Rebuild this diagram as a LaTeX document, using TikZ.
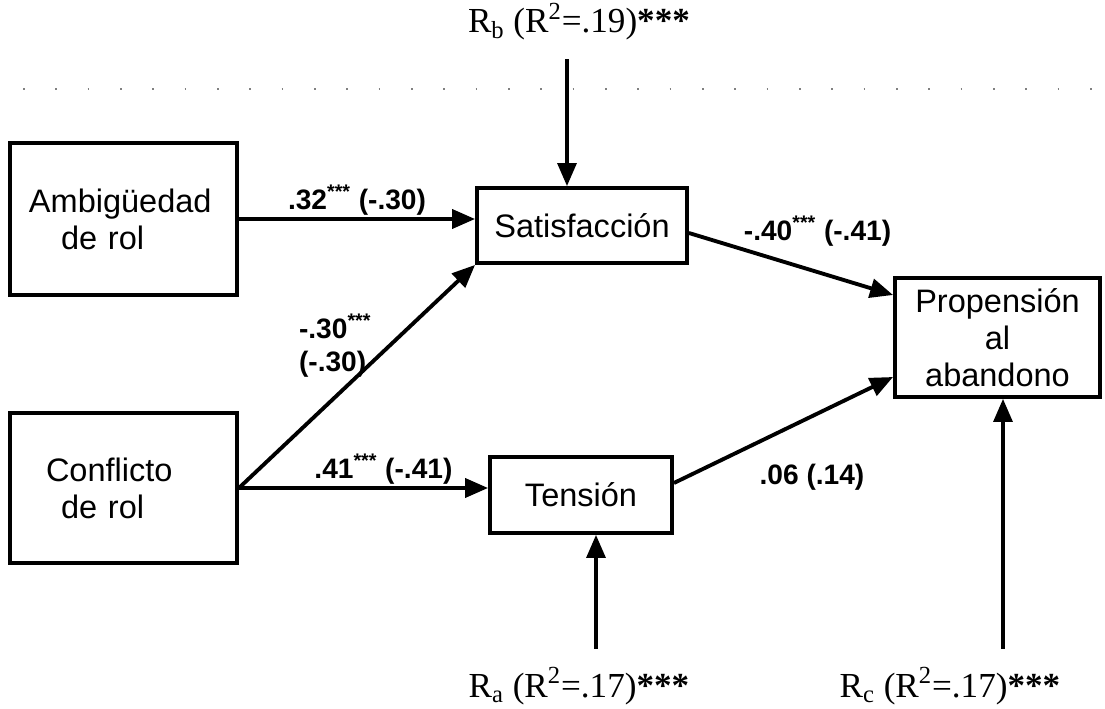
\documentclass[tikz,border=0pt]{standalone}
\usepackage{fontspec}
\setmainfont{Liberation Sans}
\newfontfamily\rfont{Liberation Serif}
\usetikzlibrary{arrows.meta,positioning}

\begin{document}
\begin{tikzpicture}[
    > = {Triangle[length=0.46cm,width=0.38cm]}, % arrow head style
    auto,
    line width = 2.2pt, % heavy path lines
    line join = miter
    ]

    \tikzset{
    box/.style = {draw = black, fill = white, inner sep = 0pt,
      font = \fontsize{18.5}{21}\selectfont},
    coef/.style = {font = \fontsize{16}{18.8}\selectfont\bfseries, inner sep = 1pt},
    resid/.style = {font = \fontsize{20}{22}\selectfont\rfont, anchor = base,
      inner xsep = 0pt, inner ysep = 0.34cm},
    rline/.style = {line width = 1.8pt}
    }

    \useasboundingbox (0,0) rectangle (22.1,-14.18);

    % dotted rule under the top residual
    \draw[gray, line width = 1pt, dash pattern = on 1pt off 17.4pt] (0.46,-1.78) -- (22.05,-1.78);

    % variables
    \node[box, minimum width = 4.54cm, minimum height = 3.04cm, text width = 3.78cm,
      align = left, inner xsep = 0.38cm] (amb) at (2.47,-4.38) {Ambigüedad\\\hspace*{0.64cm}de rol};
    \node[box, minimum width = 4.54cm, minimum height = 3.0cm, text width = 3.78cm,
      align = left, inner xsep = 0.38cm] (con) at (2.47,-9.76) {\hspace*{0.34cm}Conflicto\\\hspace*{0.64cm}de rol};
    \node[box, minimum width = 4.2cm, minimum height = 1.5cm] (sat) at (11.64,-4.51) {Satisfacción};
    \node[box, minimum width = 3.64cm, minimum height = 1.52cm] (ten) at (11.62,-9.90) {Tensión};
    \node[box, minimum width = 4.1cm, minimum height = 2.38cm, align = center] (prop) at (19.95,-6.75) {Propensión\\al\\abandono};

    % residuals
    \node[resid] (rb) at (11.58,-0.66) {R\textsubscript{b} (R\textsuperscript{2}=.19)\textbf{***}};
    \node[resid] (ra) at (11.58,-13.94) {R\textsubscript{a} (R\textsuperscript{2}=.17)\textbf{***}};
    \node[resid] (rc) at (19.0,-13.94) {R\textsubscript{c} (R\textsuperscript{2}=.17)\textbf{***}};

    \coordinate (rbin) at ([xshift=-0.3cm]sat.north);
    \coordinate (rain) at ([xshift=0.3cm]ten.south);
    \coordinate (rcin) at ([xshift=0.11cm]prop.south);

    % paths
    \path[->] (amb.east) edge node[coef, above]{.32\textsuperscript{***} (-.30)} (amb.east -| sat.west);
    \path[->] (con.east) edge node[coef, pos=0.64, left=0.3cm, align=left]{-.30\textsuperscript{***}\\(-.30)} (sat.south west);
    \path[->] (con.east) edge node[coef, pos=0.58, above]{.41\textsuperscript{***} (-.41)} (con.east -| ten.west);
    \path[->] ([yshift=-0.15cm]sat.east) edge node[coef, pos=0.63, above=0.45cm]{-.40\textsuperscript{***} (-.41)} ([yshift=0.85cm]prop.west);
    \path[->] ([yshift=0.24cm]ten.east) edge node[coef, pos=0.63, below=0.88cm]{.06 (.14)} ([yshift=-0.79cm]prop.west);

    % disturbance arrows
    \path[->] (rb.south -| rbin) edge[rline] (rbin);
    \path[->] (ra.north -| rain) edge[rline] (rain);
    \path[->] (rc.north -| rcin) edge[rline] (rcin);
\end{tikzpicture}
\end{document}
